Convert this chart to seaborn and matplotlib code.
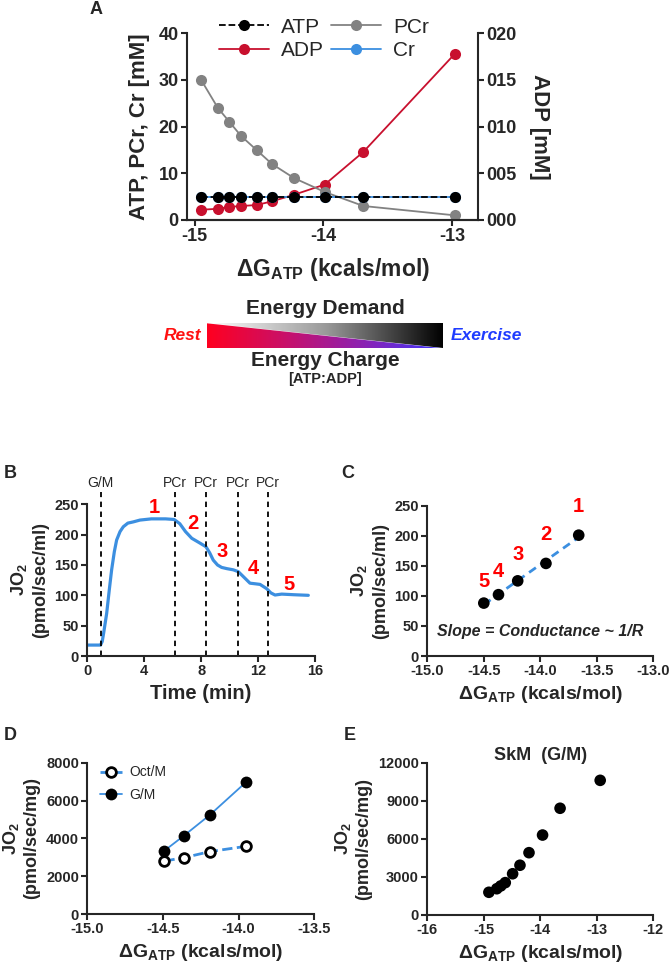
import numpy as np
import seaborn as sns
import matplotlib.pyplot as plt
from matplotlib.lines import Line2D
from matplotlib.patches import Polygon
from matplotlib.colors import LinearSegmentedColormap
from matplotlib.ticker import FuncFormatter

# ---- data ----
# panel A: metabolites vs free energy of ATP hydrolysis
dg_a = [-14.95, -14.82, -14.73, -14.64, -14.52, -14.40, -14.23, -13.99, -13.69, -12.98]
atp_a = [5, 5, 5, 5, 5, 5, 5, 5, 5, 5]
cr_a = [5, 5, 5, 5, 5, 5, 5, 5, 5, 5]
pcr_a = [30, 24, 21, 18, 15, 12, 9, 6, 3, 1]
adp_a = [0.0011, 0.0012, 0.0014, 0.0015, 0.0016, 0.0020, 0.0027, 0.0038, 0.0073, 0.0178]

# panel B: JO2 trace during PCr titration
time_b = [0, 0.93, 1.05, 1.15, 1.36, 1.55, 1.71, 1.9, 2.06, 2.3, 2.53, 2.85, 3.23, 3.7,
          4.5, 5.5, 6.1, 6.5, 6.9, 7.34, 7.92, 8.34, 8.6, 8.85, 9.15, 9.44, 9.8, 10.26,
          10.61, 11.0, 11.43, 11.8, 12.14, 12.6, 12.9, 13.19, 13.66, 14.5, 15.53]
jo2_b = [18, 18, 24, 38, 70, 110, 142, 172, 191, 205, 213, 219, 221, 224,
         226, 226, 225, 218, 205, 194, 186, 180, 170, 158, 150, 146, 144, 142,
         139, 130, 120, 119, 118, 111, 104, 100.5, 102, 101, 100]
additions_t = [0.94, 6.14, 8.34, 10.61, 12.68]
additions_lab = ["G/M", "PCr", "PCr", "PCr", "PCr"]
steps_lab = ["1", "2", "3", "4", "5"]
steps_t = [4.69, 7.4, 9.5, 11.67, 14.2]
steps_y = [244, 219, 172, 145, 118]

# panel C: JO2 vs dG_ATP
dg_c = [-13.66, -13.95, -14.20, -14.37, -14.50]
jo2_c = [201, 154, 125, 102, 88]

# panel D: Oct/M vs G/M
dg_d = [-14.49, -14.36, -14.19, -13.95]
gm_d = [3350, 4150, 5240, 6980]
oct_d = [2800, 2980, 3300, 3580]

# panel E: skeletal muscle G/M
dg_e = [-14.91, -14.77, -14.70, -14.62, -14.49, -14.36, -14.20, -13.96, -13.65, -12.94]
jo2_e = [1790, 2070, 2290, 2550, 3250, 3920, 4910, 6300, 8410, 10610]

RED = "#C8102E"
GRAY = "#828282"
BLUE = "#3C8FE0"

sns.set_style("ticks")
plt.rcParams["font.family"] = ["Liberation Sans", "DejaVu Sans"]
plt.rcParams["font.weight"] = "bold"
plt.rcParams["axes.unicode_minus"] = False
plt.rcParams["mathtext.fontset"] = "custom"
plt.rcParams["mathtext.rm"] = "Liberation Sans:bold"
plt.rcParams["mathtext.it"] = "Liberation Sans:bold:italic"
plt.rcParams["mathtext.bf"] = "Liberation Sans:bold"
plt.rcParams["axes.linewidth"] = 1.5
plt.rcParams["xtick.major.width"] = 1.5
plt.rcParams["ytick.major.width"] = 1.5
plt.rcParams["xtick.major.size"] = 4
plt.rcParams["ytick.major.size"] = 4

DG_LABEL = "ΔG$_{\\mathrm{ATP}}$ (kcals/mol)"

fig = plt.figure(figsize=(6.69, 9.64), dpi=100)
W, H = 669, 964


def axes_px(left, top, right, bottom):
    return fig.add_axes([left / W, 1 - bottom / H, (right - left) / W, (bottom - top) / H])


def style(ax, fs=10):
    sns.despine(ax=ax)
    ax.tick_params(labelsize=fs, pad=2)
    for lab in ax.get_xticklabels() + ax.get_yticklabels():
        lab.set_fontweight("bold")


# ---------------- panel A ----------------
axA = axes_px(187, 33.3, 478, 220)
axA2 = axA.twinx()
axA.set_zorder(axA2.get_zorder() + 1)
axA.patch.set_visible(False)

MS = 8
sns.lineplot(x=dg_a, y=adp_a, ax=axA2, color=RED, marker="o", markersize=MS,
             markeredgewidth=0, linewidth=1.3)
sns.lineplot(x=dg_a, y=pcr_a, ax=axA, color=GRAY, marker="o", markersize=MS,
             markeredgewidth=0, linewidth=1.3)
sns.lineplot(x=dg_a, y=cr_a, ax=axA, color=BLUE, marker="o", markersize=MS,
             markeredgewidth=0, linewidth=1.3)
sns.lineplot(x=dg_a, y=atp_a, ax=axA, color="black", marker="o", markersize=MS,
             markeredgewidth=0, linewidth=1.3, linestyle="--")

axA.set_xlim(-15.06, -12.80)
axA.set_ylim(0, 40)
axA.set_yticks([0, 10, 20, 30, 40])
axA.set_xticks([-15, -14, -13])
axA2.set_ylim(0, 0.020)
axA2.set_yticks([0, 0.005, 0.010, 0.015, 0.020])
axA2.yaxis.set_major_formatter(FuncFormatter(lambda v, p: f"{v * 1000:03.0f}"))
for a in (axA, axA2):
    a.spines["top"].set_visible(False)
    a.tick_params(labelsize=13, pad=2)
axA2.spines["left"].set_visible(False)
axA.spines["right"].set_visible(False)
axA.set_ylabel("ATP, PCr, Cr [mM]", fontsize=16, fontweight="bold", labelpad=6)
axA2.set_ylabel("ADP [mM]", fontsize=16, fontweight="bold", rotation=270, labelpad=24)
axA.set_xlabel(DG_LABEL, fontsize=16.5, fontweight="bold", labelpad=8)

handles = [
    Line2D([], [], color="black", ls="--", marker="o", ms=MS, mew=0, lw=1.3),
    Line2D([], [], color=RED, marker="o", ms=MS, mew=0, lw=1.3),
    Line2D([], [], color=GRAY, marker="o", ms=MS, mew=0, lw=1.3),
    Line2D([], [], color=BLUE, marker="o", ms=MS, mew=0, lw=1.3),
]
fig.legend(handles, ["ATP", "ADP", "PCr", "Cr"], ncol=2, loc="upper center",
           bbox_to_anchor=(324 / W, 1 + 1 / H), frameon=False,
           prop={"size": 15, "weight": "normal"}, handlelength=2.4,
           columnspacing=0.3, labelspacing=0.2, handletextpad=0.6)
fig.text(96 / W, 1 - 9 / H, "A", fontsize=13, fontweight="bold", ha="center", va="center")

# ---------------- gradient bar ----------------
axG = axes_px(206.7, 323.3, 443.3, 348.3)
axG.set_xlim(0, 1)
axG.set_ylim(0, 1)
axG.axis("off")
ramp = np.linspace(0, 1, 256).reshape(1, -1)
gray_cmap = LinearSegmentedColormap.from_list("demand", ["#ffffff", "#9a9a9a", "#000000"])
charge_cmap = LinearSegmentedColormap.from_list("charge", ["#ff0020", "#c8106a", "#8a22b4", "#3a36ff"])
upper = Polygon([[0, 1], [1, 1], [1, 0]], closed=True, facecolor="none", edgecolor="none")
lower = Polygon([[0, 0], [0, 1], [1, 0]], closed=True, facecolor="none", edgecolor="none")
axG.add_patch(upper)
axG.add_patch(lower)
im_up = axG.imshow(ramp, cmap=gray_cmap, extent=[0, 1, 0, 1], aspect="auto")
im_up.set_clip_path(upper)
im_lo = axG.imshow(ramp, cmap=charge_cmap, extent=[0, 1, 0, 1], aspect="auto")
im_lo.set_clip_path(lower)
fig.text(325 / W, 1 - 309 / H, "Energy Demand", fontsize=15, fontweight="bold", ha="center", va="center")
fig.text(325 / W, 1 - 361 / H, "Energy Charge", fontsize=15, fontweight="bold", ha="center", va="center")
fig.text(325 / W, 1 - 379 / H, "[ATP:ADP]", fontsize=10.5, fontweight="bold", ha="center", va="center")
fig.text(182 / W, 1 - 336 / H, "Rest", fontsize=12.5, fontweight="bold", style="italic",
         color="#ff1010", ha="center", va="center")
fig.text(486 / W, 1 - 336 / H, "Exercise", fontsize=12.5, fontweight="bold", style="italic",
         color="#1f3cff", ha="center", va="center")

# ---------------- panel B ----------------
axB = axes_px(87.3, 504.3, 315, 656)
sns.lineplot(x=time_b, y=jo2_b, ax=axB, color=BLUE, linewidth=2.3)
for t, lab in zip(additions_t, additions_lab):
    axB.axvline(t, ymin=0, ymax=1.083, color="black", ls="--", lw=1.3, clip_on=False, dashes=(3, 2.5))
    axB.text(t, 285, lab, fontsize=10, fontweight="normal", ha="center", va="center", clip_on=False)
for t, y, lab in zip(steps_t, steps_y, steps_lab):
    axB.text(t, y, lab, color="#ff0000", fontsize=14.5, fontweight="bold", ha="center", va="center")
axB.set_xlim(0, 16)
axB.set_ylim(0, 250)
axB.set_xticks([0, 4, 8, 12, 16])
axB.set_yticks([0, 50, 100, 150, 200, 250])
style(axB, 10.5)
axB.set_xlabel("Time (min)", fontsize=14.5, fontweight="bold", labelpad=4)
axB.set_ylabel("JO$_2$\n(pmol/sec/ml)", fontsize=13, fontweight="bold", ma="center", labelpad=4)
fig.text(10 / W, 1 - 473 / H, "B", fontsize=13, fontweight="bold", ha="center", va="center")

# ---------------- panel C ----------------
axC = axes_px(427.3, 505.7, 653.3, 656)
fit = np.polyfit(dg_c, jo2_c, 1)
fit_x = np.array([min(dg_c), max(dg_c)])
axC.plot(fit_x, np.polyval(fit, fit_x), color=BLUE, ls="--", lw=2, dashes=(3, 2))
sns.scatterplot(x=dg_c, y=jo2_c, ax=axC, color="black", s=70, edgecolor="none", zorder=3)
offs = [14, 14, 12, 10, 9]
for x, y, lab, o in zip(dg_c, jo2_c, steps_lab, offs):
    axC.annotate(lab, (x, y), xytext=(0, o), textcoords="offset points", color="#ff0000",
                 fontsize=14.5, fontweight="bold", ha="center", va="bottom")
axC.text(0.5, 0.165, "Slope = Conductance ~ 1/R", transform=axC.transAxes, fontsize=11.5,
         fontweight="bold", style="italic", ha="center", va="center")
axC.set_xlim(-15, -13)
axC.set_ylim(0, 250)
axC.set_xticks([-15.0, -14.5, -14.0, -13.5, -13.0])
axC.xaxis.set_major_formatter(FuncFormatter(lambda v, p: f"{v:.1f}"))
axC.set_yticks([0, 50, 100, 150, 200, 250])
style(axC, 10.5)
axC.set_xlabel(DG_LABEL, fontsize=14, fontweight="bold", labelpad=4)
axC.set_ylabel("JO$_2$\n(pmol/sec/ml)", fontsize=13, fontweight="bold", ma="center", labelpad=4)
fig.text(348 / W, 1 - 473 / H, "C", fontsize=13, fontweight="bold", ha="center", va="center")

# ---------------- panel D ----------------
axD = axes_px(87.3, 762.7, 314.3, 914)
sns.lineplot(x=dg_d, y=oct_d, ax=axD, color=BLUE, lw=2, linestyle="--", marker="o",
             markersize=7, markerfacecolor="white", markeredgecolor="black", markeredgewidth=2)
sns.lineplot(x=dg_d, y=gm_d, ax=axD, color=BLUE, lw=1.3, marker="o",
             markersize=8.5, markerfacecolor="black", markeredgecolor="black", markeredgewidth=0)
d_handles = [
    Line2D([], [], color=BLUE, ls="--", lw=2, marker="o", ms=7, mfc="white", mec="black", mew=2),
    Line2D([], [], color=BLUE, lw=1.3, marker="o", ms=8.5, mfc="black", mec="black", mew=0),
]
axD.legend(d_handles, ["Oct/M", "G/M"], loc="upper left", bbox_to_anchor=(0.0, 1.065),
           frameon=False, prop={"size": 10, "weight": "normal"}, handlelength=1.6,
           handletextpad=0.5, labelspacing=0.6)
axD.set_xlim(-15, -13.5)
axD.set_ylim(0, 8000)
axD.set_xticks([-15.0, -14.5, -14.0, -13.5])
axD.xaxis.set_major_formatter(FuncFormatter(lambda v, p: f"{v:.1f}"))
axD.set_yticks([0, 2000, 4000, 6000, 8000])
style(axD, 10.5)
axD.set_xlabel(DG_LABEL, fontsize=14, fontweight="bold", labelpad=4)
axD.set_ylabel("JO$_2$\n(pmol/sec/mg)", fontsize=13, fontweight="bold", ma="center", labelpad=4)
fig.text(10 / W, 1 - 735 / H, "D", fontsize=13, fontweight="bold", ha="center", va="center")

# ---------------- panel E ----------------
axE = axes_px(427.3, 762.7, 653.3, 915)
sns.scatterplot(x=dg_e, y=jo2_e, ax=axE, color="black", s=70, edgecolor="none")
axE.text(0.5, 1.05, "SkM  (G/M)", transform=axE.transAxes, fontsize=13, fontweight="bold",
         ha="center", va="center")
axE.set_xlim(-16, -12)
axE.set_ylim(0, 12000)
axE.set_xticks([-16, -15, -14, -13, -12])
axE.set_yticks([0, 3000, 6000, 9000, 12000])
style(axE, 10.5)
axE.set_xlabel(DG_LABEL, fontsize=14, fontweight="bold", labelpad=4)
axE.set_ylabel("JO$_2$\n(pmol/sec/mg)", fontsize=13, fontweight="bold", ma="center", labelpad=4)
fig.text(350 / W, 1 - 735 / H, "E", fontsize=13, fontweight="bold", ha="center", va="center")

fig.savefig("out.png", dpi=100)
